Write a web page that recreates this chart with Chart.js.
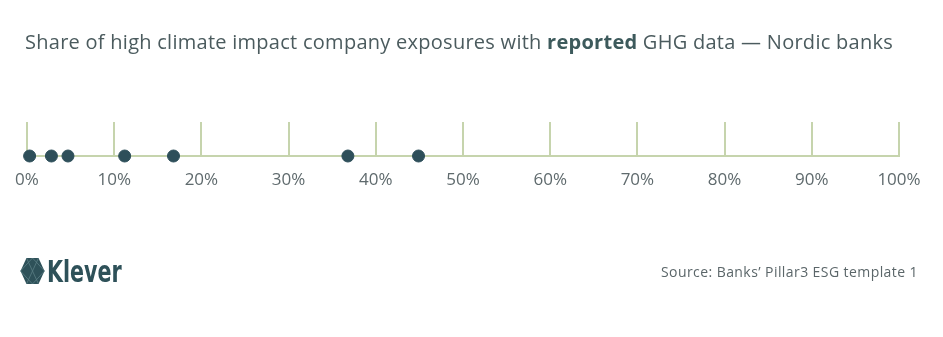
<!DOCTYPE html>
<html>
<head>
<meta charset="utf-8">
<script src="https://cdn.jsdelivr.net/npm/chart.js@4/dist/chart.umd.min.js"></script>
<style>
  html, body { margin: 0; padding: 0; background: #fff; }
  #wrap { position: relative; width: 943px; height: 337px; overflow: hidden; }
  #c { position: absolute; left: 0; top: 0; }
  #title { position: absolute; left: 25px; top: 28px; font-family: "Open Sans", sans-serif; font-size: 20px; color: #4b5b5e; white-space: nowrap; }
  #title b { color: #3d5a5c; font-weight: 700; }
  #source { position: absolute; right: 25px; top: 262px; font-family: "Open Sans", sans-serif; font-size: 14px; color: #5b6669; white-space: nowrap; }
  #logo { position: absolute; left: 20px; top: 256px; display: flex; align-items: center; }
  #logo span { display: inline-block; font-family: "DejaVu Sans Condensed", "DejaVu Sans", sans-serif; font-weight: 700; font-size: 31px; color: #2e5159; margin-left: 2px; line-height: 30px; transform: scaleX(0.74); transform-origin: left center; }
</style>
</head>
<body>
<div id="wrap">
  <canvas id="c" width="943" height="337"></canvas>
  <div id="title">Share of high climate impact company exposures with <b>reported</b> GHG data — Nordic banks</div>
  <div id="logo">
    <svg width="25" height="28" viewBox="0 0 25 28">
      <polygon points="0.5,14 6.5,1 18.5,1 24.5,14 18.5,27 6.5,27" fill="#2e5159"/>
      <path d="M6.5,1 L18.5,27 M18.5,1 L6.5,27 M0.5,14 L12.5,1 L24.5,14 L12.5,27 Z" fill="none" stroke="#5a7e84" stroke-width="0.8"/>
    </svg>
    <span>Klever</span>
  </div>
  <div id="source">Source: Banks’ Pillar3 ESG template 1</div>
</div>
<script>
const shares = [0.3, 2.8, 4.7, 11.2, 16.8, 36.8, 44.9];
const tickValues = [0, 10, 20, 30, 40, 50, 60, 70, 80, 90, 100];
const tickSuffix = '%';

// fit title / source text widths to the reference layout
function fitWidth(el, target) {
  const w = el.getBoundingClientRect().width;
  const n = el.textContent.length;
  el.style.letterSpacing = ((target - w) / n) + 'px';
}
fitWidth(document.getElementById('title'), 868);
fitWidth(document.getElementById('source'), 257);

new Chart(document.getElementById('c'), {
  type: 'scatter',
  data: {
    datasets: [{
      data: shares.map(v => ({ x: v, y: 0 })),
      backgroundColor: '#2e4f5a',
      borderColor: '#2e4f5a',
      pointRadius: 6,
      pointHoverRadius: 6,
      clip: false
    }]
  },
  options: {
    responsive: false,
    animation: false,
    layout: { padding: { left: 27, right: 44, top: 122, bottom: 141 } },
    plugins: { legend: { display: false }, tooltip: { enabled: false } },
    scales: {
      x: {
        type: 'linear',
        min: 0, max: 100,
        afterBuildTicks: s => { s.ticks = tickValues.map(v => ({ value: v })); },
        afterFit: s => { s.height = 40; },
        grid: { color: '#c6d4ad', lineWidth: 2, drawTicks: false },
        border: { display: true, color: '#c6d4ad', width: 2 },
        ticks: {
          padding: 14,
          color: '#5f6a6d',
          font: { family: '"Open Sans", sans-serif', size: 17 },
          callback: v => v + tickSuffix,
          maxRotation: 0,
          autoSkip: false
        }
      },
      y: {
        display: false,
        min: 0, max: 1
      }
    }
  }
});
</script>
</body>
</html>
